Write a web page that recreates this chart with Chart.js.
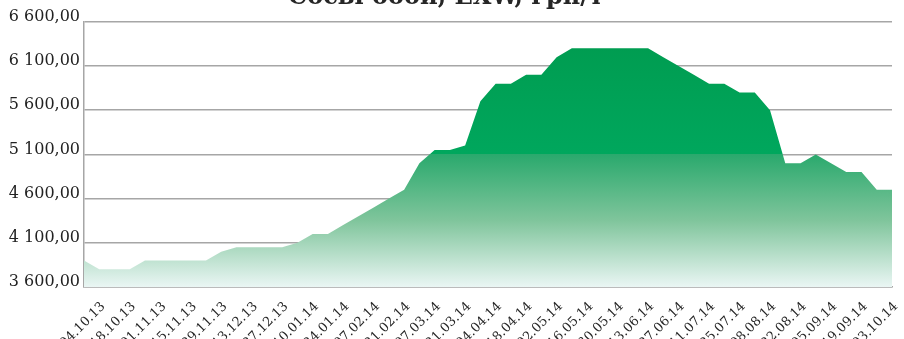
<!DOCTYPE html>
<html>
<head>
<meta charset="utf-8">
<script src="https://cdn.jsdelivr.net/npm/chart.js@4/dist/chart.umd.min.js"></script>
<style>
  html, body { margin: 0; padding: 0; background: #fff; overflow: hidden; }
  #wrap { position: relative; width: 904px; height: 339px; }
</style>
</head>
<body>
<div id="wrap"><canvas id="chart"></canvas></div>
<script>
// ── Data ──────────────────────────────────────────────────────────────────────
const TITLE = 'Соєві боби, EXW, грн/т';

// weekly dates, every other one is printed on the axis
const WEEKS = [
  '27.09.13','04.10.13','11.10.13','18.10.13','25.10.13','01.11.13','08.11.13','15.11.13',
  '22.11.13','29.11.13','06.12.13','13.12.13','20.12.13','27.12.13','03.01.14','10.01.14',
  '17.01.14','24.01.14','31.01.14','07.02.14','14.02.14','21.02.14','28.02.14','07.03.14',
  '14.03.14','21.03.14','28.03.14','04.04.14','11.04.14','18.04.14','25.04.14','02.05.14',
  '09.05.14','16.05.14','23.05.14','30.05.14','06.06.14','13.06.14','20.06.14','27.06.14',
  '04.07.14','11.07.14','18.07.14','25.07.14','01.08.14','08.08.14','15.08.14','22.08.14',
  '29.08.14','05.09.14','12.09.14','19.09.14','26.09.14','03.10.14'
];

// UAH per tonne
const PRICES = [
  3900, 3800, 3800, 3800, 3900, 3900, 3900, 3900, 3900, 4000,
  4050, 4050, 4050, 4050, 4100, 4200, 4200, 4300, 4400, 4500,
  4600, 4700, 5000, 5150, 5150, 5200, 5700, 5900, 5900, 6000,
  6000, 6200, 6300, 6300, 6300, 6300, 6300, 6300, 6200, 6100,
  6000, 5900, 5900, 5800, 5800, 5600, 5000, 5000, 5100, 5000,
  4900, 4900, 4700, 4700
];

const Y_MIN  = 3600;
const Y_MAX  = 6600;
const Y_STEP = 500;

// ── Helpers ───────────────────────────────────────────────────────────────────
function fmtPrice(v) {
  const [i, d] = Number(v).toFixed(2).split('.');
  return i.replace(/\B(?=(\d{3})+(?!\d))/g, ' ') + ',' + d;
}

function areaFill(context) {
  const { ctx, chartArea } = context.chart;
  if (!chartArea) return '#00a55a';
  const g = ctx.createLinearGradient(0, chartArea.top, 0, chartArea.bottom);
  g.addColorStop(0,    '#009a4e');
  g.addColorStop(0.5,  '#00a75d');
  g.addColorStop(0.5,  '#2aa96d');
  g.addColorStop(0.75, '#80c59c');
  g.addColorStop(1,    '#eaf6f4');
  return g;
}

const GRID = '#a6a6a6';
const SERIF = "'DejaVu Serif', 'Liberation Serif', serif";

// ── Chart ─────────────────────────────────────────────────────────────────────
new Chart(document.getElementById('chart'), {
  type: 'line',
  data: {
    labels: WEEKS,
    datasets: [{
      data: PRICES,
      fill: 'start',
      backgroundColor: areaFill,
      borderWidth: 0,
      pointRadius: 0,
      tension: 0,
    }],
  },
  options: {
    responsive: true,
    maintainAspectRatio: false,
    animation: false,
    layout: { padding: { left: 0, right: 12, top: 0, bottom: 0 } },
    plugins: {
      legend: { display: false },
      tooltip: { enabled: false },
      // title sits mostly above the top edge, as in the cropped original
      title: {
        display: true,
        text: TITLE,
        color: '#262626',
        font: { family: SERIF, size: 24, weight: 'bold' },
        padding: { top: -17, bottom: 10 },
      },
    },
    scales: {
      x: {
        offset: false,
        grid: { display: false },
        border: { display: true, color: GRID, width: 1.5 },
        ticks: {
          autoSkip: false,
          maxRotation: 45,
          minRotation: 45,
          padding: 4,
          labelOffset: 4,
          color: '#262626',
          font: { family: SERIF, size: 13 },
          callback: (v, i) => (i % 2 ? WEEKS[i] : ''),
        },
        // fixed height; rotated labels may run past the right edge
        afterFit: s => { s.height = 52; s.paddingRight = 0; },
      },
      y: {
        min: Y_MIN,
        max: Y_MAX,
        grid: { color: GRID, lineWidth: 1.5, drawTicks: false },
        border: { display: true, color: GRID, width: 1.5 },
        ticks: {
          stepSize: Y_STEP,
          padding: 4,
          labelOffset: -5,
          color: '#222',
          font: { family: SERIF, size: 16 },
          callback: v => fmtPrice(v),
        },
        afterFit: s => { s.width = 84; },
      },
    },
  },
});
</script>
</body>
</html>
